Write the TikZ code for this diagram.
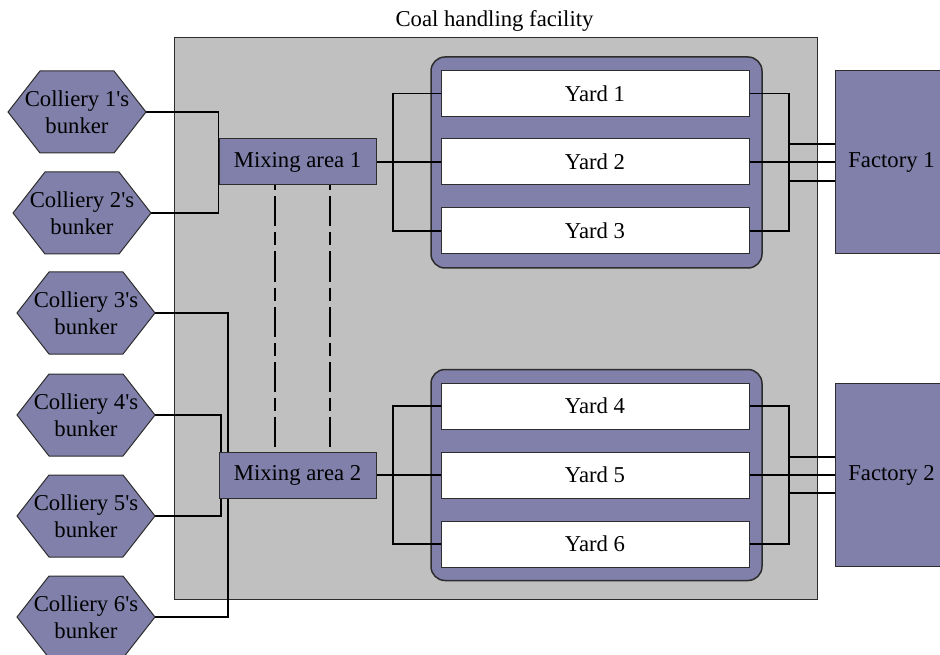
\documentclass[tikz,border=0pt]{standalone}
\usepackage{fontspec}
\setmainfont{Liberation Serif}
\usetikzlibrary{calc}

\definecolor{slate}{RGB}{128,128,171}
\definecolor{floorgray}{RGB}{192,192,192}
\definecolor{edge}{RGB}{45,45,45}

\pgfdeclarelayer{back}
\pgfdeclarelayer{wires}
\pgfsetlayers{back,wires,main}

% bunker: name, centre x, centre y, label
\newcommand\bunker[4]{%
  \filldraw[hexshape] (#2-69,#3) -- (#2-37,#3-41) -- (#2+37,#3-41) -- (#2+69,#3)
    -- (#2+37,#3+41) -- (#2-37,#3+41) -- cycle;
  \node[bunkerlabel] (#1) at (#2,#3) {#4};
}
\newcommand\apos{\textquotesingle}

\tikzset{
  box/.style={draw=edge, line width=1pt, fill=slate, inner sep=0pt},
  mixbox/.style={box, minimum width=157pt, minimum height=46pt},
  yardbox/.style={draw=edge, line width=1pt, fill=white, inner sep=0pt,
    minimum width=308pt, minimum height=46pt},
  factorybox/.style={box, minimum width=113pt, minimum height=183pt},
  groupbox/.style={draw=edge, line width=1.5pt, fill=slate, rounded corners=14pt,
    inner sep=0pt, minimum width=331pt, minimum height=211pt},
  facilitybox/.style={draw=edge, line width=1pt, fill=floorgray, inner sep=0pt,
    minimum width=643pt, minimum height=561pt},
  hexshape/.style={draw=edge, line width=1pt, fill=slate, line join=miter},
  bunkerlabel/.style={minimum width=138pt, minimum height=82pt, inner sep=0pt, align=center},
  wire/.style={draw=black, line width=1.2pt},
  tie/.style={draw=black, line width=2pt, dash pattern=on 30pt off 6pt on 13pt off 6pt,
    dash phase=44pt},
}

\begin{document}
\begin{tikzpicture}[x=1pt, y=-1pt, font=\fontsize{22.7}{27.5}\selectfont]
  \useasboundingbox (0,0) rectangle (940,655);
  \clip (0,0) rectangle (940,655);

  % facility floor and the two yard groups
  \begin{pgfonlayer}{back}
    \node[facilitybox] (facility) at (495.5,318.5) {};
    \node[groupbox] (grp1) at (596.5,162.5) {};
    \node[groupbox] (grp2) at (596.5,475) {};
  \end{pgfonlayer}

  \node[anchor=base] (title) at (494.5,27) {Coal handling facility};

  % colliery bunkers
  \bunker{c1}{77}{112}{Colliery 1\apos s\\bunker}
  \bunker{c2}{82}{213}{Colliery 2\apos s\\bunker}
  \bunker{c3}{86}{313}{Colliery 3\apos s\\bunker}
  \bunker{c4}{86}{415}{Colliery 4\apos s\\bunker}
  \bunker{c5}{86}{516}{Colliery 5\apos s\\bunker}
  \bunker{c6}{86}{617}{Colliery 6\apos s\\bunker}

  % mixing areas
  \node[mixbox] (mix1) at (297.5,162) {Mixing area 1};
  \node[mixbox] (mix2) at (297.5,475) {Mixing area 2};

  % storage yards
  \node[yardbox] (yard1) at (595,93.5) {Yard 1};
  \node[yardbox] (yard2) at (595,162) {Yard 2};
  \node[yardbox] (yard3) at (595,231) {Yard 3};
  \node[yardbox] (yard4) at (595,406) {Yard 4};
  \node[yardbox] (yard5) at (595,475) {Yard 5};
  \node[yardbox] (yard6) at (595,544) {Yard 6};

  % factories
  \node[factorybox] (fac1) at (891.5,162.5) {Factory 1};
  \node[factorybox] (fac2) at (891.5,475) {Factory 2};

  % junction points of the conveyor lines
  \coordinate (busA) at (228,475);
  \coordinate (busB) at (221,475);
  \coordinate (fork1) at (393,162);
  \coordinate (fork2) at (393,475);
  \coordinate (join1) at (789,162);
  \coordinate (join2) at (789,475);
  \coordinate (f1hi) at ([yshift=18.5pt]fac1.west);
  \coordinate (f1lo) at ([yshift=-18.5pt]fac1.west);
  \coordinate (f2hi) at ([yshift=18pt]fac2.west);
  \coordinate (f2lo) at ([yshift=-18pt]fac2.west);

  \begin{pgfonlayer}{wires}
    % bunkers to mixing areas
    \draw[wire] (c1.east) -- (c1.east -| mix1.west) -- (c2.east -| mix1.west) -- (c2.east);
    \draw[wire] (c3.east) -- (c3.east -| busA) -- (c6.east -| busA) -- (c6.east);
    \draw[wire] (c4.east) -- (c4.east -| busB) -- (c5.east -| busB) -- (c5.east);

    % mixing areas to yards
    \draw[wire] (mix1.east) -- (fork1) -- (yard2.west);
    \draw[wire] (yard1.west) -- (yard1.west -| fork1) -- (yard3.west -| fork1) -- (yard3.west);
    \draw[wire] (mix2.east) -- (fork2) -- (yard5.west);
    \draw[wire] (yard4.west) -- (yard4.west -| fork2) -- (yard6.west -| fork2) -- (yard6.west);

    % yards to factories
    \draw[wire] (yard1.east) -- (yard1.east -| join1) -- (yard3.east -| join1) -- (yard3.east);
    \draw[wire] (yard2.east) -- (yard2.east -| fac1.west);
    \draw[wire] (f1hi -| join1) -- (f1hi);
    \draw[wire] (f1lo -| join1) -- (f1lo);
    \draw[wire] (yard4.east) -- (yard4.east -| join2) -- (yard6.east -| join2) -- (yard6.east);
    \draw[wire] (yard5.east) -- (yard5.east -| fac2.west);
    \draw[wire] (f2hi -| join2) -- (f2hi);
    \draw[wire] (f2lo -| join2) -- (f2lo);

    % links between the two mixing areas
    \draw[tie] ([xshift=-22.5pt]mix1.south) -- ([xshift=-22.5pt]mix2.north);
    \draw[tie] ([xshift=32.5pt]mix1.south) -- ([xshift=32.5pt]mix2.north);
  \end{pgfonlayer}
\end{tikzpicture}
\end{document}
